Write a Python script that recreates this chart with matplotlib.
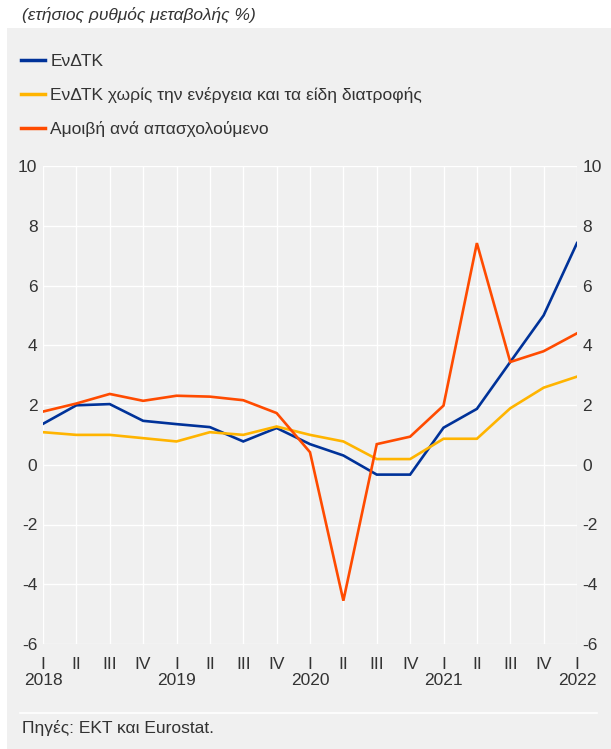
"""Annual rates of change of HICP, core HICP and compensation per employee."""

from matplotlib import pyplot
from matplotlib.patches import Rectangle
from matplotlib.lines import Line2D
import numpy


# Quarterly observations, 2018 Q1 to 2022 Q1.
quarters = ['I', 'II', 'III', 'IV'] * 4 + ['I']
years = ['2018', '2019', '2020', '2021', '2022']
hicp = [1.37, 1.99, 2.03, 1.47, 1.36, 1.26, 0.78, 1.23, 0.69, 0.31,
        -0.33, -0.33, 1.24, 1.87, 3.44, 5.0, 7.42]
hicp_core = [1.09, 1.0, 1.0, 0.89, 0.78, 1.09, 1.0, 1.28, 1.0, 0.78,
             0.19, 0.19, 0.87, 0.87, 1.89, 2.58, 2.95]
comp = [1.78, 2.05, 2.37, 2.14, 2.31, 2.28, 2.16, 1.73, 0.42, -4.55,
        0.69, 0.94, 1.98, 7.42, 3.44, 3.8, 4.4]
labels = ['ΕνΔΤΚ',
          'ΕνΔΤΚ χωρίς την ενέργεια και τα είδη διατροφής',
          'Αμοιβή ανά απασχολούμενο']
colors = ['#003299', '#ffb400', '#ff4b00']

W, H = 611, 749
bg = '#f0f0f0'
txt = '#333333'

pyplot.rcParams['font.family'] = ['Liberation Sans', 'DejaVu Sans']
pyplot.rcParams['font.size'] = 12.5
pyplot.rcParams['axes.unicode_minus'] = False

fig = pyplot.figure(figsize=(W / 100, H / 100), dpi=100)
fig.patch.set_facecolor('white')

# Grey panel behind everything below the title.
fig.add_artist(Rectangle((7 / W, 0), 1 - 7 / W, 1 - 28 / H,
                         transform=fig.transFigure, facecolor=bg,
                         edgecolor='none', zorder=-10))
fig.text(22 / W, 1 - 15 / H, '(ετήσιος ρυθμός μεταβολής %)',
         style='italic', color=txt, va='center', ha='left')

ax = fig.add_axes([43 / W, (H - 644) / H, (577 - 43) / W, (644 - 166) / H])
ax.set_facecolor(bg)
x = numpy.arange(len(quarters))
for series, label, color in zip([hicp, hicp_core, comp], labels, colors):
    ax.plot(x, series, color=color, linewidth=1.9, label=label, zorder=3,
            solid_joinstyle='miter')

ax.set_xlim(0, len(quarters) - 1)
ax.set_ylim(-6, 10)
ax.set_yticks(numpy.arange(-6, 11, 2))
ax.set_xticks(x)
ticklabels = []
for i, q in enumerate(quarters):
    if i % 4 == 0:
        ticklabels.append(q + '\n' + years[i // 4])
    else:
        ticklabels.append(q)
ax.set_xticklabels(ticklabels, linespacing=1.1)
ax.grid(color='white', linewidth=1.0, zorder=1)
for spine in ax.spines.values():
    spine.set_visible(False)
ax.tick_params(axis='both', length=0, colors=txt)
ax.tick_params(axis='y', labelright=True, pad=4)
ax.tick_params(axis='x', pad=9.5)

# Legend above the plot.
handles = [Line2D([], [], color=c, linewidth=2.5) for c in colors]
fig.legend(handles, labels, loc='upper left',
           bbox_to_anchor=(5 / W, 1 - 38 / H), frameon=False,
           handlelength=1.4, handletextpad=0.3, labelspacing=1.05,
           labelcolor=txt)

# Separator and source note.
fig.add_artist(Line2D([20 / W, 597 / W], [1 - 713 / H, 1 - 713 / H],
                      color='white', linewidth=1.2,
                      transform=fig.transFigure))
fig.text(22 / W, 1 - 728 / H, 'Πηγές: ΕΚΤ και Eurostat.', color=txt,
         va='center', ha='left')

fig.savefig('out.png', dpi=100, facecolor=fig.get_facecolor())
